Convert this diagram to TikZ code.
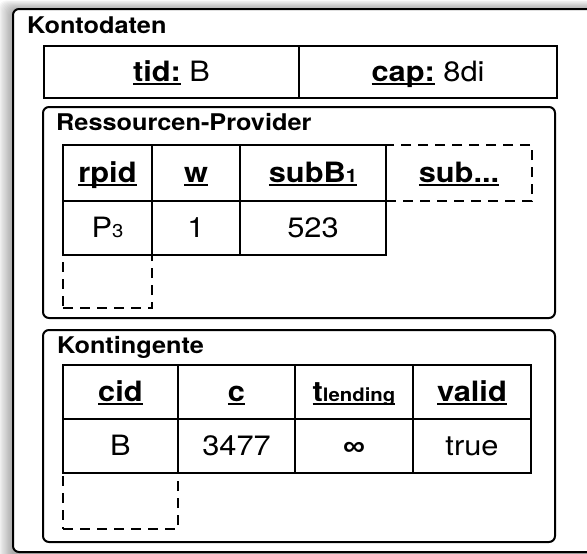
\documentclass[tikz,border=0pt]{standalone}
\usepackage{fontspec}
\setmainfont[FakeStretch=1.1]{TeX Gyre Heros}
\newfontfamily\symfont[FakeStretch=1.1]{Liberation Sans}
% underline at a fixed depth below the baseline
\newsavebox\ulinbox
\newcommand\ulin[1]{\sbox\ulinbox{#1}\rlap{\rule[-3.6pt]{\wd\ulinbox}{1.9pt}}\usebox\ulinbox}
% small index set on the baseline
\newcommand\smallsub[1]{{\fontsize{18.5}{18.5}\selectfont #1}}
\tikzset{
  framebox/.style={draw, line width=2pt, rounded corners=6pt, fill=white, inner sep=0pt},
  tcell/.style={draw, line width=2pt, inner sep=0pt, text height=22pt, text depth=2.6pt,
                font=\fontsize{28}{32}\selectfont},
  dcell/.style={tcell, dash pattern=on 10pt off 7pt},
  heading/.style={anchor=base west, inner sep=0pt, font=\bfseries\fontsize{23}{26}\selectfont},
}
\begin{document}
\begin{tikzpicture}[x=1pt,y=-1pt]
\useasboundingbox (0,0) rectangle (587,554);

% soft shadow of the outer frame
\foreach \i in {1,...,12}
  \fill[black, opacity=0.03, rounded corners=8pt] ({13-1.2*\i},{10-0.8*\i}) rectangle (620,570);

% outer frame
\node[framebox, minimum width=597pt, minimum height=543pt] (konto) at (311.5,280.5) {};
\node[heading] (kontoT) at (27,33) {Kontodaten};
\node[tcell, minimum width=255pt, minimum height=52pt] (tid) at (171.5,72) {\ulin{\bfseries tid:} B};
\node[tcell, minimum width=258pt, minimum height=52pt] (cap) at (428,72) {\ulin{\bfseries cap:} 8di};

% resource providers
\node[framebox, minimum width=512pt, minimum height=211pt] (rp) at (299,212.5) {};
\node[heading] (rpT) at (56,130) {Ressourcen-Provider};
\node[dcell, minimum width=146pt, minimum height=56pt] (rpSubX) at (459,173) {\ulin{\bfseries sub...}};
\node[dcell, minimum width=89pt, minimum height=53pt] (rpNew) at (107.5,281.5) {};
\node[tcell, minimum width=89pt, minimum height=56pt] (rpid) at (107.5,173) {\ulin{\bfseries rpid}};
\node[tcell, minimum width=88pt, minimum height=56pt] (rpw) at (196,173) {\ulin{\bfseries w}};
\node[tcell, minimum width=146pt, minimum height=56pt] (rpsub) at (313,173) {\ulin{\bfseries subB\smallsub{1}}};
\node[tcell, minimum width=89pt, minimum height=54pt] (rpidV) at (107.5,228) {P\smallsub{3}};
\node[tcell, minimum width=88pt, minimum height=54pt] (rpwV) at (196,228) {1};
\node[tcell, minimum width=146pt, minimum height=54pt] (rpsubV) at (313,228) {523};

% quotas
\node[framebox, minimum width=512pt, minimum height=212pt] (kt) at (299,436) {};
\node[heading] (ktT) at (57,353) {Kontingente};
\node[dcell, minimum width=115pt, minimum height=56pt] (ktNew) at (120.5,501) {};
\node[tcell, minimum width=115pt, minimum height=54pt] (cid) at (120.5,392) {\ulin{\bfseries cid}};
\node[tcell, minimum width=117pt, minimum height=54pt] (cc) at (236.5,392) {\ulin{\bfseries c}};
\node[tcell, minimum width=118pt, minimum height=54pt] (tl) at (354,392) {\ulin{\bfseries t\smallsub{lending}}};
\node[tcell, minimum width=118pt, minimum height=54pt] (valid) at (472,392) {\ulin{\bfseries valid}};
\node[tcell, minimum width=115pt, minimum height=54pt] (cidV) at (120.5,446) {B};
\node[tcell, minimum width=117pt, minimum height=54pt] (ccV) at (236.5,446) {3477};
\node[tcell, minimum width=118pt, minimum height=54pt] (tlV) at (354,446) {{\symfont\bfseries ∞}};
\node[tcell, minimum width=118pt, minimum height=54pt] (validV) at (472,446) {true};
\end{tikzpicture}
\end{document}
